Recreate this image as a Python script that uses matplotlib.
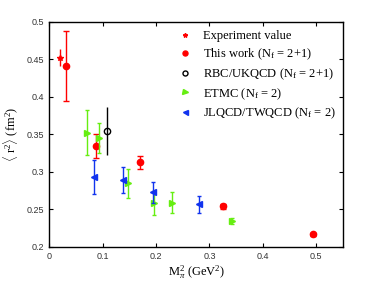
import matplotlib
matplotlib.use('Agg')
import matplotlib.pyplot as plt
import numpy as np

plt.rcParams['mathtext.fontset'] = 'custom'
plt.rcParams['mathtext.rm'] = 'Liberation Serif'
plt.rcParams['mathtext.it'] = 'Liberation Serif:italic'

# data
exp_x, exp_y, exp_err = [0.0195], [0.452], [0.011]

this_x = [0.031, 0.0875, 0.169, 0.325, 0.493]
this_y = [0.441, 0.335, 0.3125, 0.254, 0.217]
this_err = [0.046, 0.016, 0.009, 0.003, 0.002]

rbc_x, rbc_y, rbc_err = [0.109], [0.354], [0.032]

etmc_x = [0.071, 0.094, 0.147, 0.1955, 0.229, 0.3415]
etmc_y = [0.352, 0.345, 0.2845, 0.258, 0.259, 0.234]
etmc_err = [0.030, 0.020, 0.019, 0.016, 0.014, 0.004]

jlq_x = [0.0837, 0.1375, 0.194, 0.280]
jlq_y = [0.293, 0.289, 0.273, 0.2565]
jlq_err = [0.023, 0.017, 0.014, 0.011]

fig = plt.figure(figsize=(3.79, 2.86), dpi=100)
ax = fig.add_axes([0.130, 0.137, 0.775, 0.787])

ms = 4.5
ax.errorbar(exp_x, exp_y, yerr=exp_err, fmt='none', ecolor='red', elinewidth=1, capsize=0)
ax.plot(exp_x, exp_y, '*', color='red', ms=4, label='Experiment value')

ax.errorbar(this_x, this_y, yerr=this_err, fmt='none', ecolor='red', elinewidth=1, capsize=2)
ax.plot(this_x, this_y, 'o', color='red', ms=ms, label=r'This work (N$_\mathregular{f}$ = 2+1)')

ax.errorbar(rbc_x, rbc_y, yerr=rbc_err, fmt='none', ecolor='black', elinewidth=1, capsize=0)
ax.plot(rbc_x, rbc_y, 'o', mfc='none', mec='black', mew=1, ms=ms, label=r'RBC/UKQCD (N$_\mathregular{f}$ = 2+1)')

ax.errorbar(etmc_x, etmc_y, yerr=etmc_err, fmt='none', ecolor='#66ee11', elinewidth=1, capsize=1.5)
ax.plot(etmc_x, etmc_y, '>', color='#66ee11', ms=ms, label=r'ETMC (N$_\mathregular{f}$ = 2)')

ax.errorbar(jlq_x, jlq_y, yerr=jlq_err, fmt='none', ecolor='#1133ee', elinewidth=1, capsize=1.5)
ax.plot(jlq_x, jlq_y, '<', color='#1133ee', ms=ms, label=r'JLQCD/TWQCD (N$_\mathregular{f}$ = 2)')

ax.set_xlim(0, 0.55)
ax.set_ylim(0.2, 0.5)
ax.set_xticks([0, 0.1, 0.2, 0.3, 0.4, 0.5])
ax.set_xticklabels(['0', '0.1', '0.2', '0.3', '0.4', '0.5'])
ax.set_yticks(np.arange(0.2, 0.501, 0.05))
ax.set_yticklabels(['0.2', '0.25', '0.3', '0.35', '0.4', '0.45', '0.5'])
ax.tick_params(direction='in', top=True, right=True, length=3, labelsize=6.5)
for lab in ax.get_xticklabels() + ax.get_yticklabels():
    lab.set_fontname('Liberation Sans')
    lab.set_color('#333333')

for s in ax.spines.values():
    s.set_linewidth(1)

ax.set_xlabel(r'M$_\pi^2$ (GeV$^2$)', fontsize=9, fontname='Liberation Serif', labelpad=2)
ax.set_ylabel(r'$\langle$ r$^2\rangle$ (fm$^2$)', fontsize=9, fontname='Liberation Serif')

leg = ax.legend(loc='upper left', bbox_to_anchor=(0.441, 0.963), frameon=False,
                prop={'family': 'Liberation Serif', 'size': 9}, markerscale=0.8,
                handlelength=1, handletextpad=0.94, labelspacing=0.35, borderpad=0, borderaxespad=0)

fig.savefig('out.png', dpi=100)
